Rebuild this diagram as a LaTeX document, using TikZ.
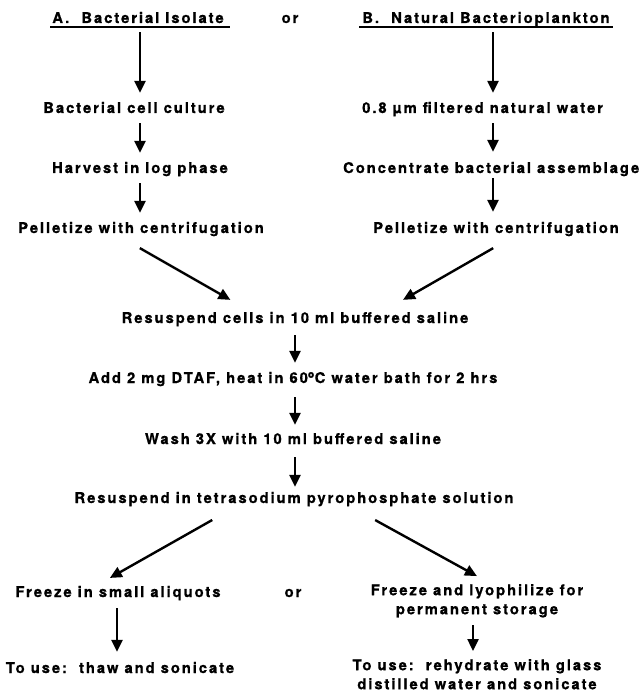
\documentclass[tikz,border=0pt]{standalone}
\usepackage{fontspec}
\newfontfamily\hv[LetterSpace=13, BoldFeatures={FakeBold=0.8}]{TeX Gyre Heros}
\usetikzlibrary{arrows.meta,calc}
\begin{document}
\begin{tikzpicture}[x=1pt,y=-1pt,
  txt/.style={font=\hv\bfseries\fontsize{14.8}{19}\selectfont, inner sep=0pt, text height=10pt, text depth=3pt, anchor=base},
  mtxt/.style={font=\hv\bfseries\fontsize{14.8}{19}\selectfont, inner sep=0pt, align=center, anchor=north},
  arr/.style={line width=2.4pt, -{Triangle[width=11pt,length=12pt]}},
  ul/.style={line width=2pt}]
\useasboundingbox (0,0) rectangle (640,692);
% column guides
\coordinate (xA) at (140,0);
\coordinate (xB) at (493,0);
\coordinate (xC) at (295,0);
\coordinate (xL) at (117,0);
\coordinate (xR) at (473,0);
% headers
\node[txt] (hA) at (138,23) {A.\ \ Bacterial Isolate};
\node[txt] (or1) at (290,23) {or};
\node[txt] (hB) at (486,23) {B.\ \ Natural Bacterioplankton};
\draw[ul] ($(hA.base west)+(-2,4)$) -- ($(hA.base east)+(6,4)$);
\draw[ul] ($(hB.base west)+(-3,4)$) -- ($(hB.base east)+(3,4)$);
% left column
\node[txt] (cA) at (134,113) {Bacterial cell culture};
\node[txt] (hv) at (140,173) {Harvest in log phase};
\node[txt] (pA) at (141,233) {Pelletize with centrifugation};
% right column
\node[txt, anchor=base west] (wB) at (362,113) {0.8 µm filtered natural water};
\node[txt, anchor=base west] (cB) at (343,173) {Concentrate bacterial assemblage};
\node[txt] (pB) at (496,233) {Pelletize with centrifugation};
% centre
\node[txt] (rs) at (295,323) {Resuspend cells in 10 ml buffered saline};
\node[txt] (dt) at (293,383) {Add 2 mg DTAF, heat in 60\textsuperscript{o}C water bath for 2 hrs};
\node[txt] (wa) at (293,444) {Wash 3X with 10 ml buffered saline};
\node[txt] (ts) at (294,503) {Resuspend in tetrasodium pyrophosphate solution};
% bottom
\node[txt] (fz) at (118,597) {Freeze in small aliquots};
\node[txt] (or2) at (293,597) {or};
\node[mtxt] (fl) at (477,584) {Freeze and lyophilize for\\permanent storage};
\node[txt] (tu1) at (120,673) {To use:\ \ thaw and sonicate};
\node[mtxt] (tu2) at (477,659) {To use:\ \ rehydrate with glass\\distilled water and sonicate};
% arrows left column
\draw[arr, shorten <=6pt, shorten >=10pt] (hA.south -| xA) -- (cA.north -| xA);
\draw[arr, shorten <=7pt, shorten >=10pt] (cA.south -| xA) -- (hv.north -| xA);
\draw[arr, shorten <=7pt, shorten >=10pt] (hv.south -| xA) -- (pA.north -| xA);
% arrows right column
\draw[arr, shorten <=6pt, shorten >=10pt] (hB.south -| xB) -- (wB.north -| xB);
\draw[arr, shorten <=7pt, shorten >=11pt] (wB.south -| xB) -- (cB.north -| xB);
\draw[arr, shorten <=2pt, shorten >=11pt] (cB.south -| xB) -- (pB.north -| xB);
% converging arrows
\draw[arr, shorten <=24pt, shorten >=26pt] ([xshift=-22pt]pA.south) -- ([xshift=-42pt]rs.north);
\draw[arr, shorten <=24pt, shorten >=26pt] ([xshift=18pt]pB.south) -- ([xshift=85.5pt]rs.north);
% centre arrows
\draw[arr, shorten <=9pt, shorten >=10pt] (rs.south -| xC) -- (dt.north -| xC);
\draw[arr, shorten <=11pt, shorten >=9pt] (dt.south -| xC) -- (wa.north -| xC);
\draw[arr, shorten <=10pt, shorten >=6pt] (wa.south -| xC) -- (ts.north -| xC);
% diverging arrows
\draw[arr, shorten <=28pt, shorten >=18pt] ([xshift=-57.4pt]ts.south) -- ([xshift=-23.8pt]fz.north);
\draw[arr, shorten <=28.7pt, shorten >=16.4pt] ([xshift=56pt]ts.south) -- ([xshift=14.3pt]fl.north);
% bottom arrows
\draw[arr, shorten <=8pt, shorten >=11pt] (fz.south -| xL) -- (tu1.north -| xL);
\draw[arr, shorten <=7.5pt, shorten >=8pt] (fl.south -| xR) -- (tu2.north -| xR);
\end{tikzpicture}
\end{document}
